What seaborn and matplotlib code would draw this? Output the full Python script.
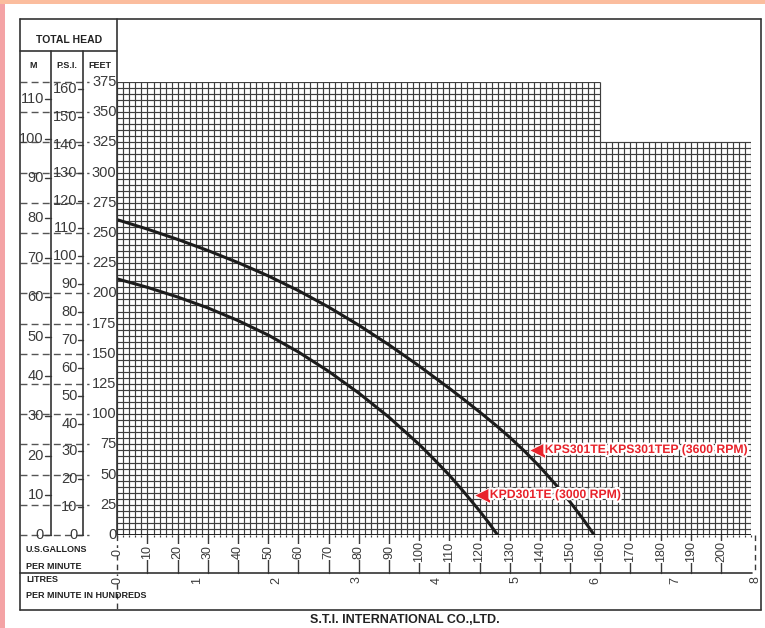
import numpy as np
import pandas as pd
import matplotlib
matplotlib.use("Agg")
import matplotlib.pyplot as plt
import matplotlib.transforms as mtransforms
import matplotlib.patheffects as pe
from matplotlib.lines import Line2D
from matplotlib.patches import Rectangle
import seaborn as sns

# ---------------- data ----------------
gpm_3600 = [0, 10, 20, 30, 40, 50, 60, 70, 80, 90, 100, 110, 115, 120, 125, 130, 135,
            140, 145, 150, 154, 158]
head_3600 = [261, 253.2, 244.7, 235.5, 225.5, 214.5, 202.3, 188.7, 173.7, 157.4, 139.9,
             121.4, 111.8, 101.9, 91.7, 80.9, 69.2, 56.4, 42.4, 27.4, 14.2, 0]

gpm_3000 = [0, 10, 20, 30, 40, 50, 60, 70, 80, 90, 100, 105, 110, 115, 120, 123, 126]
head_3000 = [212, 205, 197, 188, 177.5, 165.5, 151.5, 135.5, 117.5, 97.5, 75, 62.5,
             49.5, 35.1, 20, 10.3, 0]

label_3600 = "KPS301TE,KPS301TEP (3600 RPM)"
label_3000 = "KPD301TE (3000 RPM)"

feet_ticks = list(range(0, 376, 25))
m_ticks = list(range(0, 111, 10))
psi_ticks = list(range(0, 161, 10))
gpm_ticks = list(range(0, 201, 10))
litre_ticks = list(range(0, 9))  # hundreds of litres per minute

FT_PER_M = 3.28084
FT_PER_PSI = 2.30666
L_PER_GAL = 3.78541

# ---------------- figure ----------------
W, H = 765, 628
sns.set_theme(style="white")
plt.rcParams["font.family"] = ["Liberation Sans", "DejaVu Sans"]

fig = plt.figure(figsize=(W / 100, H / 100), dpi=100)
fig.patch.set_facecolor("white")


def fx(px):
    return px / W


def fy(py):
    return 1 - py / H


# pink border strips
fig.add_artist(Rectangle((0, 0), fx(5), 1, transform=fig.transFigure,
                         color="#f4a3a5", zorder=0, lw=0))
fig.add_artist(Rectangle((0, fy(4)), 1, 1 - fy(4), transform=fig.transFigure,
                         color="#fbbd9e", zorder=0, lw=0))

X0, X1, Y0, Y1 = 117.3, 751.2, 535, 82
ax = fig.add_axes([fx(X0), fy(Y0), fx(X1) - fx(X0), fy(Y1) - fy(Y0)])
ax.set_xlim(0, 210)
ax.set_ylim(0, 375)
ax.axis("off")

tr_xd_yf = mtransforms.blended_transform_factory(ax.transData, fig.transFigure)
tr_xf_yd = mtransforms.blended_transform_factory(fig.transFigure, ax.transData)

grid_c = "#3e3e3e"
# stepped grid
xs = np.arange(0, 210 + 0.01, 2)
tops = np.where(xs <= 160, 375, 325)
ax.vlines(xs, 0, tops, color=grid_c, lw=0.85, zorder=1)
ax.vlines(xs, -1.8, 0, color=grid_c, lw=0.85, zorder=1, clip_on=False)
ys = np.arange(0, 375 + 0.01, 5)
rights = np.where(ys <= 325, 210, 160)
ax.hlines(ys, 0, rights, color=grid_c, lw=0.85, zorder=1)
ax.hlines(0, 0, 210, color="#222222", lw=1.4, zorder=2)

# curves
df = pd.DataFrame({"gpm": gpm_3600 + gpm_3000,
                   "head": head_3600 + head_3000,
                   "model": [label_3600] * len(gpm_3600) + [label_3000] * len(gpm_3000)})
sns.lineplot(data=df, x="gpm", y="head", units="model", estimator=None, sort=False,
             color="#1c1c1c", linewidth=2.2, ax=ax, legend=False, zorder=3)
ax.axis("off")

# annotations
red = "#e8232b"
halo = [pe.withStroke(linewidth=3.2, foreground="white")]
for mk_x, mk_y, txt_x, lab in [(139.1, 70.4, 141.6, label_3600),
                               (120.8, 33.1, 123.4, label_3000)]:
    ax.plot([mk_x], [mk_y], marker="<", ms=11, color=red, mec="white", mew=0.6,
            zorder=5, clip_on=False)
    ax.text(txt_x, mk_y, lab, color=red, fontsize=8.8, fontweight="bold",
            ha="left", va="center", zorder=6, path_effects=halo)

# ---------------- frame & left panel ----------------
line_c = "#333333"


def fline(x0, y0, x1, y1, lw=1.2, ls="-", color=line_c):
    fig.add_artist(Line2D([fx(x0), fx(x1)], [fy(y0), fy(y1)], transform=fig.transFigure,
                          color=color, lw=lw, ls=ls))


fline(20, 19, 761, 19)
fline(20, 610, 761, 610)
fline(20, 19, 20, 610)
fline(761, 19, 761, 610)
fline(117.3, 19, 117.3, 535)
fline(20, 51, 117.3, 51)
fline(50.7, 51, 50.7, 535)
fline(83.3, 51, 83.3, 535)
fline(20, 573, 752, 573)

num_c = "#3a3a3a"
num_fs = 10.5

# feet scale with dashed level lines
for v in feet_ticks:
    ax.add_line(Line2D([fx(20), fx(89)], [v, v], transform=tr_xf_yd, color="#555555",
                       lw=1.0, ls=(0, (5, 3)), clip_on=False))
    ax.text(fx(116.5), v, str(v), transform=tr_xf_yd, ha="right", va="center",
            fontsize=num_fs, color=num_c)

for m in m_ticks:
    y = m * FT_PER_M
    ax.add_line(Line2D([fx(44.5), fx(50.7)], [y, y], transform=tr_xf_yd, color=num_c,
                       lw=1.0, clip_on=False))
    ax.text(fx(44), y, str(m), transform=tr_xf_yd, ha="right", va="center",
            fontsize=num_fs, color=num_c)

for p in psi_ticks:
    y = p * FT_PER_PSI
    ax.add_line(Line2D([fx(77.5), fx(83.3)], [y, y], transform=tr_xf_yd, color=num_c,
                       lw=1.0, clip_on=False))
    ax.text(fx(77.5), y, str(p), transform=tr_xf_yd, ha="right", va="center",
            fontsize=num_fs, color=num_c)

# GPM scale
for g in gpm_ticks:
    if g == 0:
        ax.add_line(Line2D([g, g], [fy(535), fy(610)], transform=tr_xd_yf, color=num_c,
                           lw=1.0, ls=(0, (4, 3)), clip_on=False))
    else:
        ax.add_line(Line2D([g, g], [fy(535), fy(573)], transform=tr_xd_yf, color=num_c,
                           lw=1.0, clip_on=False))
    ax.text(g, fy(552), str(g), transform=tr_xd_yf, rotation=90, ha="center",
            va="center", fontsize=9, color=num_c,
            bbox=dict(boxstyle="square,pad=0.05", fc="white", ec="none"))

# litres scale
for L in litre_ticks:
    x = L * 100 / L_PER_GAL
    if L == litre_ticks[-1]:
        ax.add_line(Line2D([x, x], [fy(535), fy(573)], transform=tr_xd_yf, color=num_c,
                           lw=1.0, ls=(0, (4, 3)), clip_on=False))
    ax.text(x, fy(580), str(L), transform=tr_xd_yf, rotation=90, ha="center",
            va="center", fontsize=9, color=num_c,
            bbox=dict(boxstyle="square,pad=0.05", fc="white", ec="none"))

# header / labels
txt_c = "#222222"
fig.text(fx(69), fy(40), "TOTAL HEAD", ha="center", va="center", fontsize=7.5,
         fontweight="bold", color=txt_c)
for xx, t in [(33, "M"), (67, "P.S.I."), (100, "FEET")]:
    fig.text(fx(xx), fy(65), t, ha="center", va="center", fontsize=6.5,
             fontweight="bold", color=txt_c)
for yy, t in [(550, "U.S.GALLONS"), (566.5, "PER MINUTE"), (580, "LITRES"),
              (596, "PER MINUTE IN HUNDREDS")]:
    fig.text(fx(26), fy(yy), t, ha="left", va="center", fontsize=6.5,
             fontweight="bold", color=txt_c)
fig.text(fx(405), fy(620), "S.T.I. INTERNATIONAL CO.,LTD.", ha="center", va="center",
         fontsize=9, fontweight="bold", color=txt_c)

fig.savefig("out.png", dpi=100)
